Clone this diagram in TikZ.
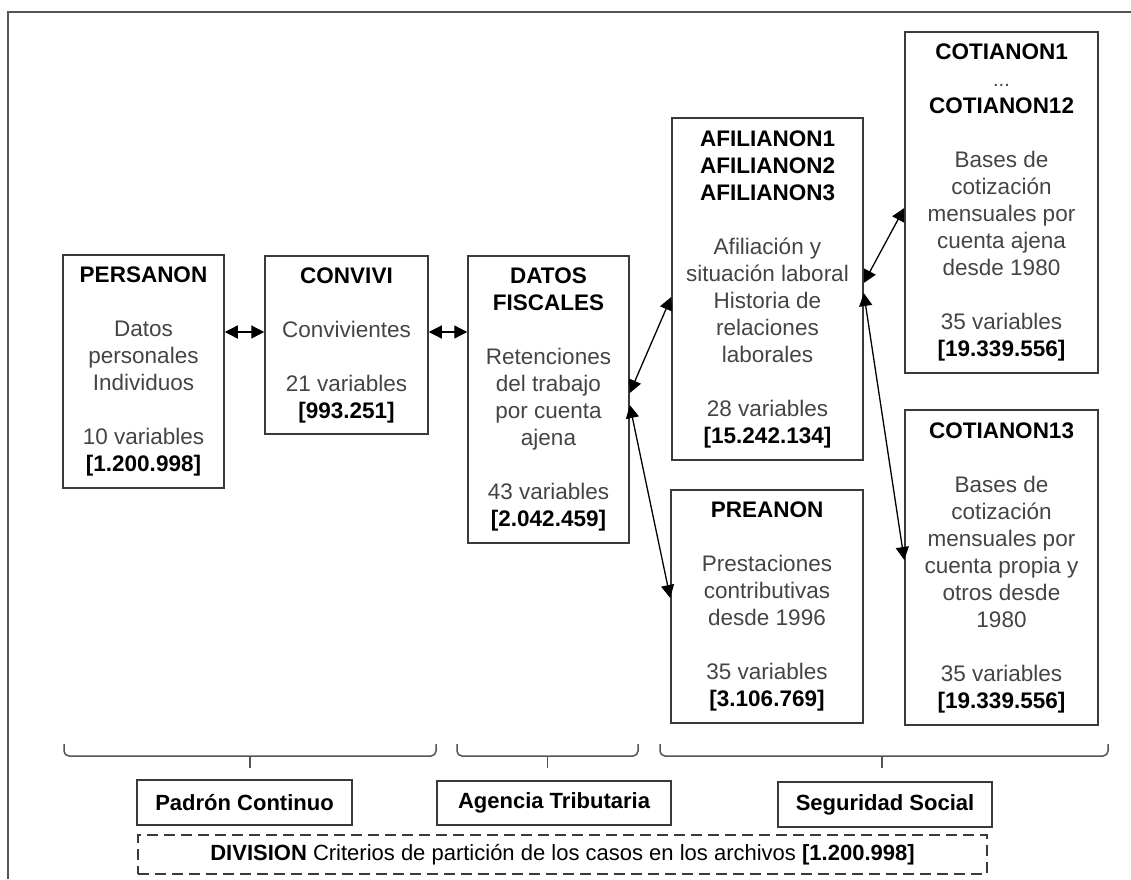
\documentclass[tikz,border=0pt]{standalone}
\usepackage{fontspec}
\setmainfont{Liberation Sans}
\usetikzlibrary{arrows.meta}
\definecolor{txtgray}{HTML}{444444}
\definecolor{linegray}{HTML}{3A3A3A}
\definecolor{bracegray}{HTML}{555555}
\tikzset{
  box/.style={draw=linegray, line width=1.5pt, inner sep=0pt, align=center,
    text=txtgray, font=\fontsize{22.5}{27}\selectfont},
  lbox/.style={draw=linegray, line width=1.5pt, inner sep=0pt, align=center,
    text=black, font=\fontsize{22}{24}\selectfont\bfseries},
  dbox/.style={draw=linegray, line width=1.4pt, dash pattern=on 11pt off 6pt,
    inner sep=0pt, align=center, text=black, font=\fontsize{22}{24}\selectfont},
  link/.style={draw=black, line width=1.3pt, {Triangle[length=13pt,width=13pt]}-{Triangle[length=13pt,width=13pt]}},
  bracepath/.style={draw=bracegray, line width=1.5pt, rounded corners=5pt},
  tickpath/.style={draw=bracegray, line width=1.5pt},
  frame/.style={draw=bracegray, line width=2pt}
}
\newcommand{\ttl}[1]{{\bfseries\color{black}#1}}
\begin{document}
\begin{tikzpicture}[x=1pt,y=-1pt]
\useasboundingbox (0,0) rectangle (1131,879);
% outer frame (partial)
\draw[frame] (8,879) -- (8,12) -- (1131,12);

% boxes
\node[box, minimum width=161pt, minimum height=233pt] (pers) at (143.5,371.5)
  {\ttl{PERSANON}\\[27pt]Datos\\personales\\Individuos\\[27pt]10 variables\\\ttl{[1.200.998]}};
\node[box, minimum width=163pt, minimum height=178pt] (conv) at (346.5,345)
  {\ttl{CONVIVI}\\[27pt]Convivientes\\[27pt]21 variables\\\ttl{[993.251]}};
\node[box, minimum width=161pt, minimum height=287pt] (datos) at (548.5,399.5)
  {\ttl{DATOS}\\\ttl{FISCALES}\\[27pt]Retenciones\\del trabajo\\por cuenta\\ajena\\[27pt]43 variables\\\ttl{[2.042.459]}};
\node[box, minimum width=191pt, minimum height=342pt] (afil) at (767.5,289)
  {\ttl{AFILIANON1}\\\ttl{AFILIANON2}\\\ttl{AFILIANON3}\\[27pt]Afiliación y\\situación laboral\\Historia de\\relaciones\\laborales\\[27pt]28 variables\\\ttl{[15.242.134]}};
\node[box, minimum width=192pt, minimum height=233pt] (pre) at (767,606.5)
  {\ttl{PREANON}\\[27pt]Prestaciones\\contributivas\\desde 1996\\[27pt]35 variables\\\ttl{[3.106.769]}};
\node[box, minimum width=193pt, minimum height=341pt] (cotia) at (1001.5,202.5)
  {\ttl{COTIANON1}\\{\fontsize{20}{27}\selectfont ...}\\\ttl{COTIANON12}\\[27pt]Bases de\\cotización\\mensuales por\\cuenta ajena\\desde 1980\\[27pt]35 variables\\\ttl{[19.339.556]}};
\node[box, minimum width=193pt, minimum height=315pt] (cotib) at (1001.5,567.5)
  {\ttl{COTIANON13}\\[27pt]Bases de\\cotización\\mensuales por\\cuenta propia y\\otros desde\\1980\\[27pt]35 variables\\\ttl{[19.339.556]}};

% connectors
\draw[link] (pers.east |- 0,332) -- (conv.west |- 0,332);
\draw[link] (conv.east |- 0,332) -- (datos.west |- 0,332);
\draw[link] (datos.east |- 0,393) -- (afil.west |- 0,297);
\draw[link] (datos.east |- 0,405) -- (pre.west |- 0,598);
\draw[link] (afil.east |- 0,283) -- (cotia.west |- 0,208);
\draw[link] (afil.east |- 0,293) -- (cotib.west |- 0,560);

% braces
\draw[bracepath] (64,744) -- (64,756) -- (436,756) -- (436,744);
\draw[tickpath] (250,756) -- (250,768);
\draw[bracepath] (457,744) -- (457,756) -- (638,756) -- (638,744);
\draw[tickpath] (547.5,756) -- (547.5,768);
\draw[bracepath] (660,744) -- (660,756) -- (1108,756) -- (1108,744);
\draw[tickpath] (882,756) -- (882,768);

% source labels
\node[lbox, minimum width=215pt, minimum height=45pt] (padron) at (244.5,802.5) {Padrón Continuo};
\node[lbox, minimum width=234pt, minimum height=44pt] (agencia) at (554,803) {Agencia Tributaria};
\node[lbox, minimum width=214pt, minimum height=45pt] (seg) at (885,804.5) {Seguridad Social};

% division
\node[dbox, minimum width=849pt, minimum height=39pt] (div) at (562.5,854.5)
  {\textbf{DIVISION} Criterios de partición de los casos en los archivos \textbf{[1.200.998]}};
\end{tikzpicture}
\end{document}
